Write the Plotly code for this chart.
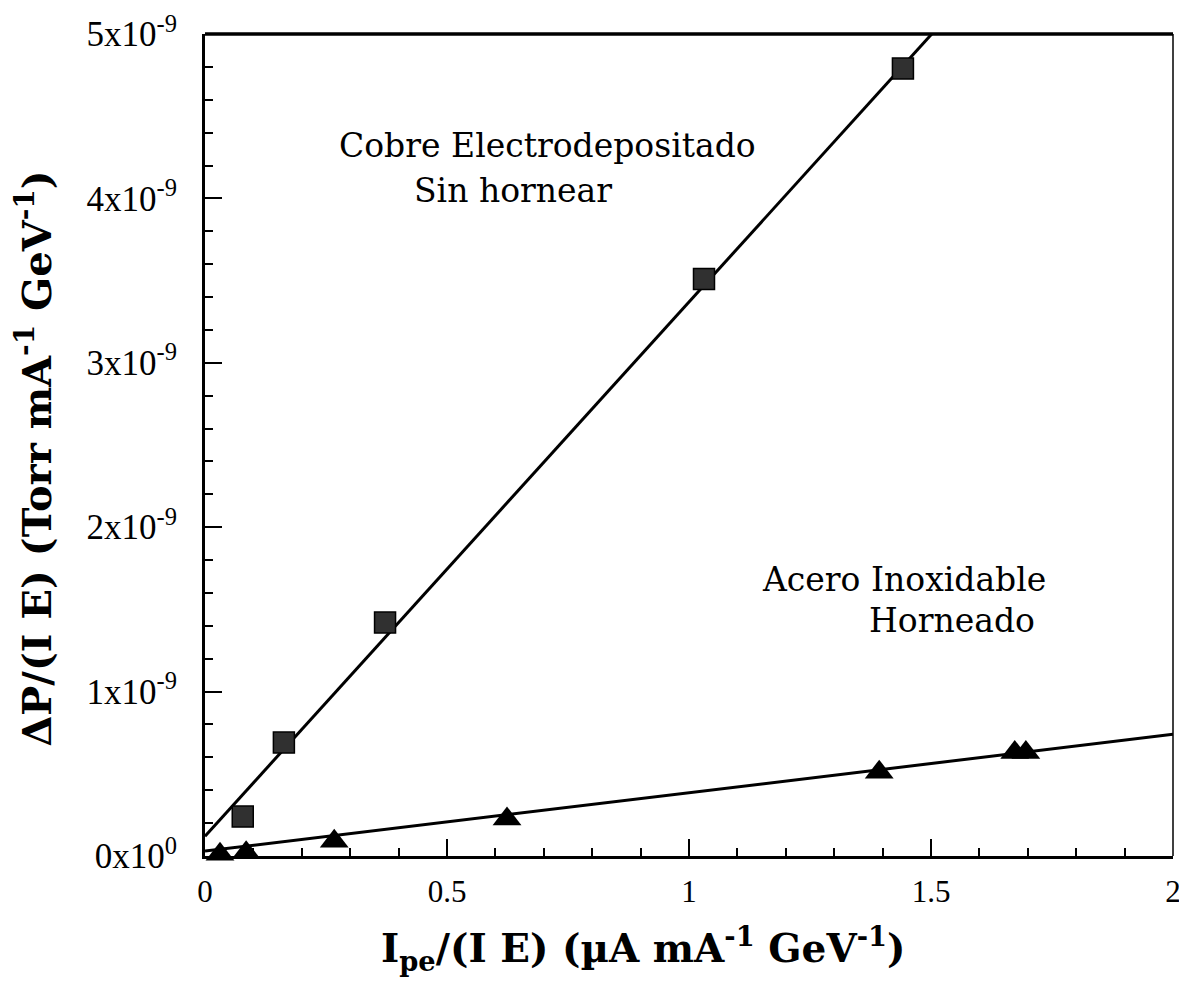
import plotly.graph_objects as go

# Data
cu_x = [0.078, 0.163, 0.372, 1.031, 1.442]
cu_y = [0.24e-9, 0.69e-9, 1.42e-9, 3.51e-9, 4.79e-9]

ss_x = [0.031, 0.085, 0.267, 0.624, 1.393, 1.673, 1.696]
ss_y = [0.01e-9, 0.02e-9, 0.09e-9, 0.225e-9, 0.51e-9, 0.63e-9, 0.63e-9]

# Fit lines (endpoints)
cu_fit_x = [0.0, 2.0]
cu_fit_y = [0.12e-9, 6.62e-9]
ss_fit_x = [0.0, 2.0]
ss_fit_y = [0.03e-9, 0.74e-9]

x_tickvals = [0, 0.5, 1, 1.5, 2]
x_ticktext = ["0", "0.5", "1", "1.5", "2"]
y_tickvals = [0, 1e-9, 2e-9, 3e-9, 4e-9, 5e-9]
y_ticktext = ["0x10<sup>0</sup>", "1x10<sup>-9</sup>", "2x10<sup>-9</sup>",
              "3x10<sup>-9</sup>", "4x10<sup>-9</sup>", "5x10<sup>-9</sup>"]

x_title = "<b>I<sub>pe</sub>/(I E) (µA mA<sup>-1</sup> GeV<sup>-1</sup>)</b>"
y_title = "<b>ΔP/(I E) (Torr mA<sup>-1</sup> GeV<sup>-1</sup>)</b>"

SERIF = "DejaVu Serif, Liberation Serif, serif"
TIMES = "Liberation Serif, DejaVu Serif, serif"

fig = go.Figure()
fig.add_trace(go.Scatter(x=cu_fit_x, y=cu_fit_y, mode="lines",
                         line=dict(color="black", width=3), showlegend=False))
fig.add_trace(go.Scatter(x=ss_fit_x, y=ss_fit_y, mode="lines",
                         line=dict(color="black", width=3), showlegend=False))
fig.add_trace(go.Scatter(x=cu_x, y=cu_y, mode="markers",
                         marker=dict(symbol="square", size=21, color="#303030",
                                     line=dict(color="black", width=1.5)),
                         showlegend=False, cliponaxis=False))
fig.add_trace(go.Scatter(x=ss_x, y=ss_y, mode="markers",
                         marker=dict(symbol="triangle-up", size=25, color="black",
                                     line=dict(color="black", width=0)),
                         showlegend=False, cliponaxis=False))

annots = [
    dict(x=0.707, y=4.32e-9, text="Cobre Electrodepositado"),
    dict(x=0.636, y=4.05e-9, text="Sin hornear"),
    dict(x=1.444, y=1.68e-9, text="Acero Inoxidable"),
    dict(x=1.543, y=1.43e-9, text="Horneado"),
]
for a in annots:
    fig.add_annotation(x=a["x"], y=a["y"], text=a["text"], showarrow=False,
                       xref="x", yref="y", xanchor="center", yanchor="middle",
                       font=dict(family=SERIF, size=33, color="black"))

# axis titles as paper annotations (placed like the reference)
fig.add_annotation(x=0.4525, y=-0.112, xref="paper", yref="paper", text=x_title,
                   showarrow=False, xanchor="center", yanchor="middle",
                   font=dict(family=SERIF, size=39, color="black"))
fig.add_annotation(x=-0.176, y=0.484, xref="paper", yref="paper", text=y_title,
                   showarrow=False, xanchor="center", yanchor="middle", textangle=-90,
                   font=dict(family=SERIF, size=40, color="black"))

# frame: thick top, thin right
fig.add_shape(type="line", xref="paper", yref="paper", x0=0, x1=1, y0=1, y1=1,
              line=dict(color="black", width=3.5))
fig.add_shape(type="line", xref="paper", yref="paper", x0=1, x1=1, y0=0, y1=1,
              line=dict(color="black", width=1.5))

fig.update_layout(
    width=1187, height=998,
    margin=dict(l=197, r=22, t=26, b=150, autoexpand=False),
    paper_bgcolor="white", plot_bgcolor="white",
    font=dict(family=SERIF, color="black"),
    xaxis=dict(
        range=[0, 2], tickvals=x_tickvals, ticktext=x_ticktext,
        ticks="inside", ticklen=17, tickwidth=2, tickcolor="black",
        minor=dict(ticks="inside", ticklen=8, tickwidth=2, tickcolor="black", dtick=0.1),
        showline=True, linecolor="black", linewidth=3, mirror=False,
        showgrid=False, zeroline=False, automargin=False,
        tickfont=dict(family=TIMES, size=31, color="black"),
        ticklabelstandoff=6,
    ),
    yaxis=dict(
        range=[0, 5e-9], tickvals=y_tickvals, ticktext=y_ticktext,
        ticks="inside", ticklen=17, tickwidth=2, tickcolor="black",
        minor=dict(ticks="inside", ticklen=8, tickwidth=2, tickcolor="black", dtick=0.2e-9),
        showline=True, linecolor="black", linewidth=3, mirror=False,
        showgrid=False, zeroline=False, automargin=False,
        tickfont=dict(family=TIMES, size=35, color="black"),
        ticklabelstandoff=18,
    ),
)

fig.write_html("out.html")
